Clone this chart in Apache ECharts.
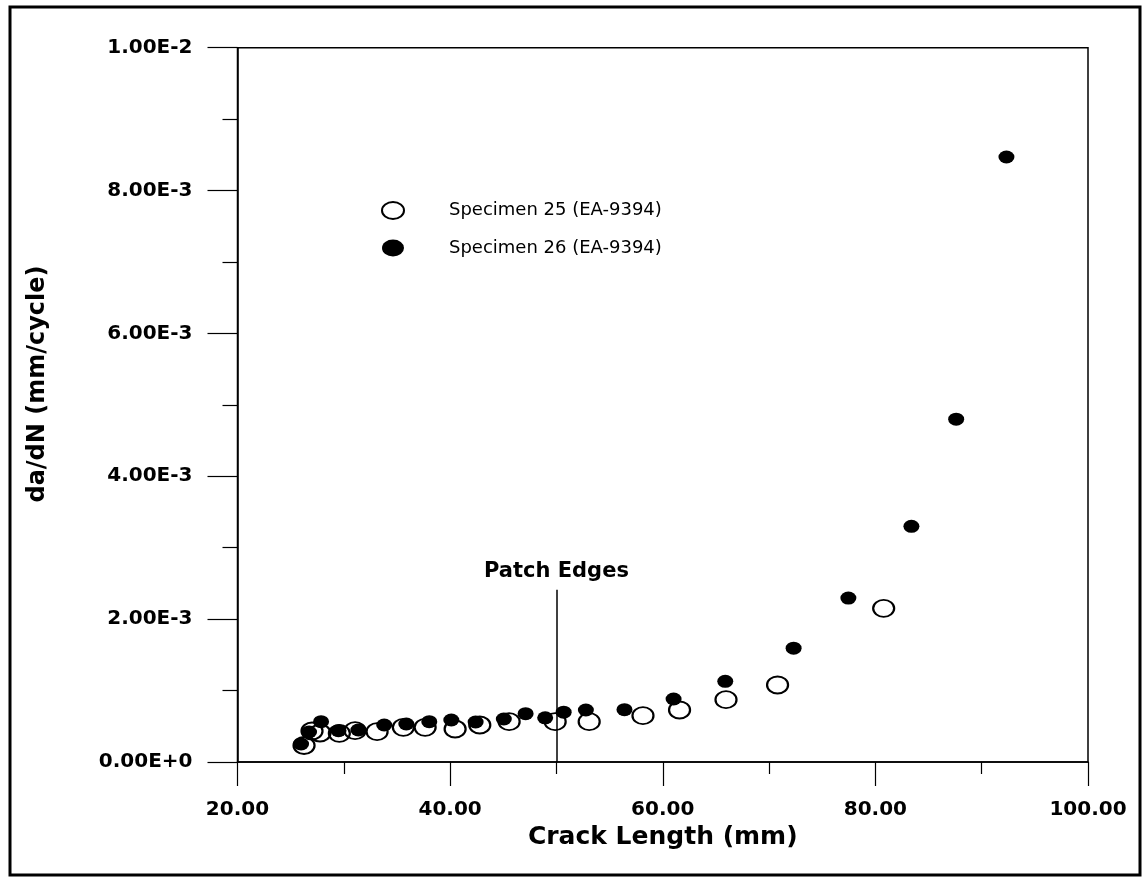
<!DOCTYPE html>
<html>
<head>
<meta charset="utf-8">
<script src="https://cdn.jsdelivr.net/npm/echarts@6/dist/echarts.min.js"></script>
<style>
  html, body { margin: 0; padding: 0; background: #fff; }
  #chart { width: 1143px; height: 880px; }
</style>
</head>
<body>
<div id="chart"></div>
<script>
// Crack growth rate vs crack length, two bonded-repair specimens
const seriesNames = ['Specimen 25 (EA-9394)', 'Specimen 26 (EA-9394)'];

// Specimen 25: crack length (mm) and da/dN (mm/cycle)
const crackLength25 = [26.26, 27.01, 27.76, 29.58, 31.06, 33.13, 35.6, 37.65, 40.47, 42.79,
  45.55, 49.88, 53.08, 58.14, 61.58, 65.95, 70.8, 80.78];
const dadN25 = [2.31e-4, 4.34e-4, 4.06e-4, 4.02e-4, 4.38e-4, 4.24e-4, 4.86e-4, 4.86e-4, 4.62e-4, 5.18e-4,
  5.64e-4, 5.64e-4, 5.64e-4, 6.48e-4, 7.28e-4, 8.72e-4, 1.078e-3, 2.151e-3];

// Specimen 26
const crackLength26 = [25.98, 26.73, 27.86, 29.5, 31.37, 33.8, 35.88, 38.04, 40.11, 42.4,
  45.05, 47.1, 48.94, 50.68, 52.77, 56.4, 61.02, 65.88, 72.31, 77.46, 83.39, 87.6, 92.33];
const dadN26 = [2.52e-4, 4.2e-4, 5.64e-4, 4.38e-4, 4.48e-4, 5.18e-4, 5.32e-4, 5.64e-4, 5.88e-4, 5.6e-4,
  6.02e-4, 6.76e-4, 6.19e-4, 6.97e-4, 7.28e-4, 7.32e-4, 8.82e-4, 1.13e-3, 1.593e-3, 2.295e-3,
  3.30e-3, 4.80e-3, 8.47e-3];

// Patch edge location and the height of its marker line
const patchEdgeX = 50;
const patchLineTop = 2.41e-3;
const patchLabel = 'Patch Edges';

// Tick labels
const xTickLabels = ['20.00', '40.00', '60.00', '80.00', '100.00'];
const yTickLabels = ['0.00E+0', '2.00E-3', '4.00E-3', '6.00E-3', '8.00E-3', '1.00E-2'];

const xTitle = 'Crack Length (mm)';
const yTitle = 'da/dN (mm/cycle)';

const FONT = 'DejaVu Sans';
const ELLIPSE = 'path://M0,8.5A11,8.5,0,1,1,22,8.5A11,8.5,0,1,1,0,8.5Z';

function pairs(xs, ys) { return xs.map((x, i) => [x, ys[i]]); }

const chart = echarts.init(document.getElementById('chart'), null, { renderer: 'canvas' });

chart.setOption({
  animation: false,
  backgroundColor: '#fff',
  grid: {
    left: 237.5, right: 55, top: 47.7, bottom: 118,
    show: true, borderColor: '#000', borderWidth: 1.5, backgroundColor: 'transparent'
  },
  xAxis: {
    type: 'value', min: 20, max: 100, interval: 20,
    name: xTitle, nameLocation: 'middle', nameGap: 60,
    nameTextStyle: { fontFamily: FONT, fontWeight: 'bold', fontSize: 25, color: '#000' },
    axisLine: { lineStyle: { color: '#000', width: 1.5 } },
    axisTick: { inside: false, length: 24, lineStyle: { color: '#000', width: 1.2 } },
    minorTick: { show: true, splitNumber: 2, length: 12, lineStyle: { color: '#000', width: 1.2 } },
    splitLine: { show: false },
    axisLabel: {
      margin: 38, fontFamily: FONT, fontWeight: 'bold', fontSize: 20, color: '#000',
      formatter: v => xTickLabels[Math.round((v - 20) / 20)]
    }
  },
  yAxis: {
    type: 'value', min: 0, max: 0.01, interval: 0.002,
    axisLine: { lineStyle: { color: '#000', width: 1.5 } },
    axisTick: { inside: false, length: 30, lineStyle: { color: '#000', width: 1.2 } },
    minorTick: { show: true, splitNumber: 2, length: 15, lineStyle: { color: '#000', width: 1.2 } },
    splitLine: { show: false },
    axisLabel: {
      margin: 45, fontFamily: FONT, fontWeight: 'bold', fontSize: 20, color: '#000',
      formatter: v => yTickLabels[Math.round(v / 0.002)]
    }
  },
  legend: {
    orient: 'vertical', left: 376, top: 196, itemGap: 19,
    itemWidth: 22, itemHeight: 17,
    textStyle: { fontFamily: FONT, fontSize: 18, color: '#000', padding: [0, 0, 0, 40] },
    data: [
      { name: seriesNames[0], icon: ELLIPSE,
        itemStyle: { color: 'rgba(255,255,255,0)', borderColor: '#000', borderWidth: 2 } },
      { name: seriesNames[1], icon: ELLIPSE,
        itemStyle: { color: '#000', borderWidth: 0 } }
    ]
  },
  graphic: [
    {
      type: 'rect', silent: true, z: 100,
      shape: { x: 10, y: 7, width: 1130, height: 868 },
      style: { fill: 'none', stroke: '#000', lineWidth: 3 }
    },
    {
      type: 'text', silent: true, x: 38, y: 384, rotation: Math.PI / 2,
      style: {
        text: yTitle, fontFamily: FONT, fontWeight: 'bold', fontSize: 24, fill: '#000',
        align: 'center', verticalAlign: 'middle'
      }
    }
  ],
  series: [
    {
      name: seriesNames[0], type: 'scatter',
      symbol: 'circle', symbolSize: [21, 17],
      itemStyle: { color: 'rgba(255,255,255,0)', borderColor: '#000', borderWidth: 2, opacity: 1 },
      data: pairs(crackLength25, dadN25),
      markLine: {
        silent: true, symbol: ['none', 'none'],
        lineStyle: { color: '#000', width: 1.5, type: 'solid' },
        label: {
          show: true, position: 'end', distance: 8, formatter: patchLabel,
          fontFamily: FONT, fontWeight: 'bold', fontSize: 21, color: '#000'
        },
        data: [[{ coord: [patchEdgeX, 0] }, { coord: [patchEdgeX, patchLineTop] }]]
      }
    },
    {
      name: seriesNames[1], type: 'scatter',
      symbol: 'circle', symbolSize: [16, 13],
      itemStyle: { color: '#000', opacity: 1 },
      data: pairs(crackLength26, dadN26)
    }
  ]
});
</script>
</body>
</html>
